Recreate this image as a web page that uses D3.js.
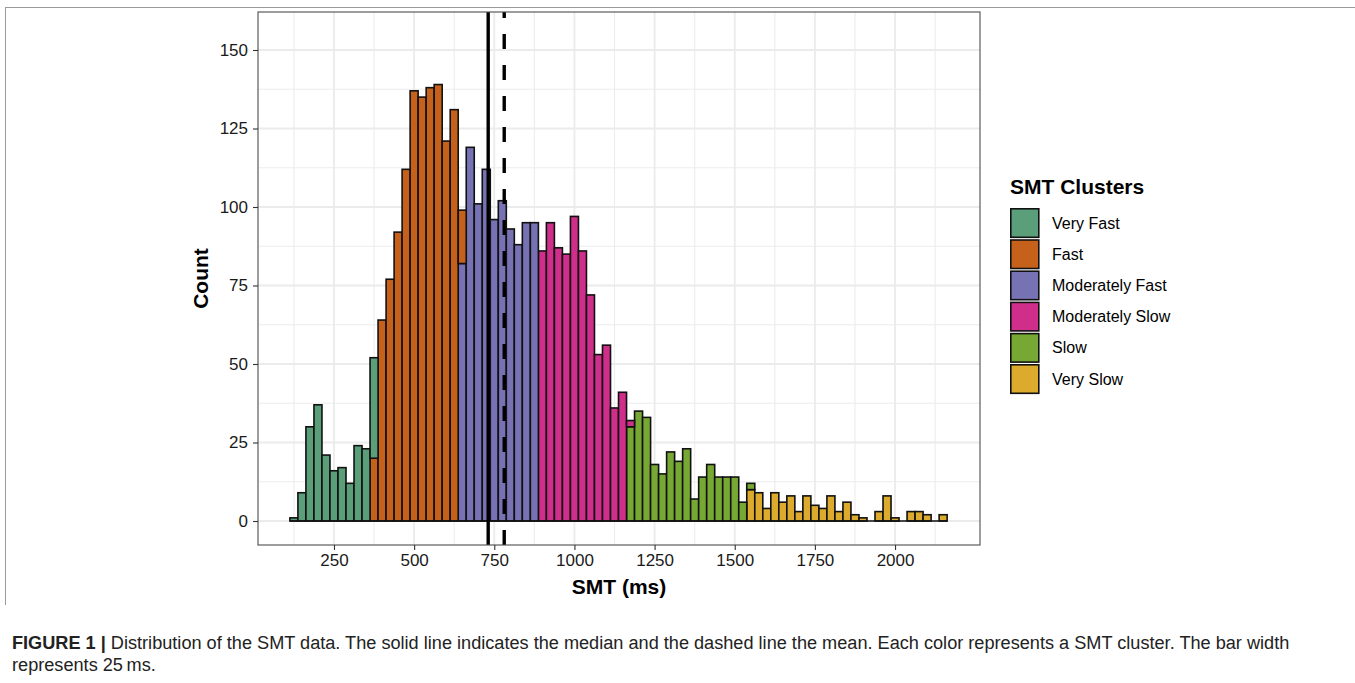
<!DOCTYPE html>
<html>
<head>
<meta charset="utf-8">
<script src="https://cdn.jsdelivr.net/npm/d3@7"></script>
<style>
  html, body { margin: 0; padding: 0; background: #fff; }
  svg { display: block; }
  text { font-family: "Liberation Sans", Arial, Helvetica, sans-serif; }
</style>
</head>
<body>
<svg id="chart" width="1355" height="683"></svg>
<script>
// ---------------- DATA ----------------
const clusters = ["Very Fast", "Fast", "Moderately Fast", "Moderately Slow", "Slow", "Very Slow"];
const clusterColors = ["#5a9e7a", "#c5611b", "#7772b4", "#cf2e8a", "#78a834", "#dcaa2c"];
// bin centres (ms), bar width 25 ms
const binCenters = [125,150,175,200,225,250,275,300,325,350,375,400,425,450,475,500,525,550,575,600,
  625,650,675,700,725,750,775,800,825,850,875,900,925,950,975,1000,1025,1050,1075,1100,1125,1150,
  1175,1200,1225,1250,1275,1300,1325,1350,1375,1400,1425,1450,1475,1500,1525,1550,1575,1600,1625,
  1650,1675,1700,1725,1750,1775,1800,1825,1850,1875,1900,1925,1950,1975,2000,2025,2050,2075,2100,2125,2150];
const binWidth = 25;
// first bin centre of each cluster
const clusterStart = [125, 375, 650, 900, 1175, 1550];
const veryFastCounts = [1, 9, 30, 37, 21, 16, 17, 12, 24, 23, 32];
const fastCounts = [20, 64, 77, 92, 112, 137, 135, 138, 139, 121, 131, 17];
const modFastCounts = [82, 119, 101, 112, 96, 102, 93, 88, 95, 95];
const modSlowCounts = [86, 95, 87, 85, 97, 86, 72, 53, 56, 36, 41, 2];
const slowCounts = [30, 35, 33, 18, 15, 22, 19, 23, 7, 14, 18, 14, 14, 14, 6, 2];
const verySlowCounts = [10, 9, 4, 9, 6, 8, 3, 8, 5, 4, 8, 3, 6, 2, 1, 0, 3, 8, 1, 0, 3, 3, 2, 0, 2];
const clusterCounts = [veryFastCounts, fastCounts, modFastCounts, modSlowCounts, slowCounts, verySlowCounts];
const medianSMT = 731;
const meanSMT = 781;
const xTicks = [250, 500, 750, 1000, 1250, 1500, 1750, 2000];
const xMinor = [125, 375, 625, 875, 1125, 1375, 1625, 1875, 2125];
const yTicks = [0, 25, 50, 75, 100, 125, 150];
const yMinor = [12.5, 37.5, 62.5, 87.5, 112.5, 137.5];

// ---------------- TABLE ----------------
const table = binCenters.map(b => {
  const row = { bin: b };
  clusters.forEach((c, ci) => {
    const idx = Math.round((b - clusterStart[ci]) / binWidth);
    const arr = clusterCounts[ci];
    row[c] = (idx >= 0 && idx < arr.length) ? arr[idx] : 0;
  });
  return row;
});

// ---------------- LAYOUT ----------------
const svg = d3.select("#chart");
const panel = { left: 258, right: 980, top: 12, bottom: 545 };
const x = d3.scaleLinear().domain([13, 2265]).range([panel.left, panel.right]);
const y = d3.scaleLinear().domain([-7.64, 162.1]).range([panel.bottom, panel.top]);
const color = d3.scaleOrdinal().domain(clusters).range(clusterColors);

// figure frame (top and left rules)
svg.append("line").attr("x1", 5).attr("x2", 1355).attr("y1", 7.5).attr("y2", 7.5)
  .attr("stroke", "#9a9a9a").attr("stroke-width", 1);
svg.append("line").attr("x1", 5.5).attr("x2", 5.5).attr("y1", 7).attr("y2", 605)
  .attr("stroke", "#9a9a9a").attr("stroke-width", 1);

// panel background
svg.append("rect").attr("x", panel.left).attr("y", panel.top)
  .attr("width", panel.right - panel.left).attr("height", panel.bottom - panel.top)
  .attr("fill", "#fff");

const grid = svg.append("g");
grid.selectAll(".xmin").data(xMinor).join("line")
  .attr("x1", d => x(d)).attr("x2", d => x(d)).attr("y1", panel.top).attr("y2", panel.bottom)
  .attr("stroke", "#ececec").attr("stroke-width", 1.1);
grid.selectAll(".ymin").data(yMinor).join("line")
  .attr("y1", d => y(d)).attr("y2", d => y(d)).attr("x1", panel.left).attr("x2", panel.right)
  .attr("stroke", "#ececec").attr("stroke-width", 1.1);
grid.selectAll(".xmaj").data(xTicks).join("line")
  .attr("x1", d => x(d)).attr("x2", d => x(d)).attr("y1", panel.top).attr("y2", panel.bottom)
  .attr("stroke", "#ebebeb").attr("stroke-width", 1.8);
grid.selectAll(".ymaj").data(yTicks).join("line")
  .attr("y1", d => y(d)).attr("y2", d => y(d)).attr("x1", panel.left).attr("x2", panel.right)
  .attr("stroke", "#ebebeb").attr("stroke-width", 1.8);

// stacked bars (first cluster on top)
const stackKeys = clusters.slice().reverse();
const series = d3.stack().keys(stackKeys)(table);
const barG = svg.append("g");
series.forEach(s => {
  barG.append("g").attr("fill", color(s.key))
    .selectAll("rect").data(s.filter(d => d[1] - d[0] > 0)).join("rect")
    .attr("x", d => x(d.data.bin - binWidth / 2))
    .attr("width", d => x(d.data.bin + binWidth / 2) - x(d.data.bin - binWidth / 2))
    .attr("y", d => y(d[1]))
    .attr("height", d => y(d[0]) - y(d[1]))
    .attr("stroke", "#111").attr("stroke-width", 1.6);
});
// zero-height bars along the baseline
barG.append("line")
  .attr("x1", x(binCenters[0] - binWidth / 2)).attr("x2", x(binCenters[binCenters.length - 1] + binWidth / 2))
  .attr("y1", y(0)).attr("y2", y(0)).attr("stroke", "#111").attr("stroke-width", 1.6);

// median / mean lines (drawn bottom to top)
svg.append("line").attr("x1", x(medianSMT)).attr("x2", x(medianSMT))
  .attr("y1", panel.bottom).attr("y2", panel.top)
  .attr("stroke", "#000").attr("stroke-width", 3.4);
svg.append("line").attr("x1", x(meanSMT)).attr("x2", x(meanSMT))
  .attr("y1", panel.bottom).attr("y2", panel.top)
  .attr("stroke", "#000").attr("stroke-width", 3.4).attr("stroke-dasharray", "15,16");

// panel border
svg.append("rect").attr("x", panel.left).attr("y", panel.top)
  .attr("width", panel.right - panel.left).attr("height", panel.bottom - panel.top)
  .attr("fill", "none").attr("stroke", "#4d4d4d").attr("stroke-width", 1.1);

// axes
const xAxis = svg.append("g").attr("transform", `translate(0,${panel.bottom})`)
  .call(d3.axisBottom(x).tickValues(xTicks).tickSize(5).tickPadding(4).tickFormat(d3.format("d")));
const yAxis = svg.append("g").attr("transform", `translate(${panel.left},0)`)
  .call(d3.axisLeft(y).tickValues(yTicks).tickSize(5).tickPadding(5).tickFormat(d3.format("d")));
[xAxis, yAxis].forEach(a => {
  a.select(".domain").remove();
  a.selectAll(".tick line").attr("stroke", "#333").attr("stroke-width", 1.1);
  a.selectAll(".tick text").attr("fill", "#1a1a1a").style("font-size", "17px")
    .style("font-family", "'Liberation Sans', Arial, sans-serif");
});

// axis titles
svg.append("text").attr("x", (panel.left + panel.right) / 2).attr("y", 594)
  .attr("text-anchor", "middle").style("font-size", "21px").style("font-weight", "bold")
  .attr("fill", "#000").text("SMT (ms)");
svg.append("text").attr("transform", `translate(208,${(panel.top + panel.bottom) / 2}) rotate(-90)`)
  .attr("text-anchor", "middle").style("font-size", "21px").style("font-weight", "bold")
  .attr("fill", "#000").text("Count");

// legend
const legend = svg.append("g");
legend.append("text").attr("x", 1010).attr("y", 194)
  .style("font-size", "21px").style("font-weight", "bold").attr("fill", "#000").text("SMT Clusters");
const items = legend.selectAll(".item").data(clusters).join("g")
  .attr("transform", (d, i) => `translate(1010,${208 + i * 31.2})`);
items.append("rect").attr("x", 0.8).attr("y", 0.8).attr("width", 28).attr("height", 28.5)
  .attr("fill", d => color(d)).attr("stroke", "#111").attr("stroke-width", 1.6);
items.append("text").attr("x", 42).attr("y", 15).attr("dy", "0.35em")
  .style("font-size", "16px").attr("fill", "#000").text(d => d);

// caption
const cap = svg.append("g").style("font-size", "15.5px").attr("fill", "#222");
const line1 = cap.append("text").attr("x", 12).attr("y", 649);
line1.append("tspan").style("font-weight", "bold").text("FIGURE 1 | ");
line1.append("tspan").text("Distribution of the SMT data. The solid line indicates the median and the dashed line the mean. Each color represents a SMT cluster. The bar width");
const line2 = cap.append("text").attr("x", 12).attr("y", 671).text("represents 25\u2009ms.");
// fit caption width to the reference line length
const target = 1278;
const len = line1.node().getComputedTextLength();
const fs = 15.5 * target / len;
cap.style("font-size", fs + "px");
</script>
</body>
</html>
